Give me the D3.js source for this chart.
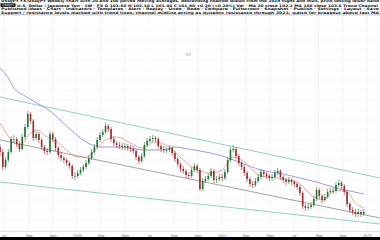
<!DOCTYPE html>
<html>
<head>
<meta charset="utf-8">
<script src="https://cdn.jsdelivr.net/npm/d3@7/dist/d3.min.js"></script>
<style>
  body { margin: 0; background: #fff; }
  svg { display: block; font-family: "DejaVu Sans", sans-serif; }
</style>
</head>
<body>
<div id="container"></div>
<script>
// weekly candles, first one on this date
const firstWeek = "2019-06-21";
const viewStart = "2019-06-21";
const viewEnd = "2022-02-03";

const closes = [107.8,106.3,107.0,107.8,109.1,109.1,108.6,108.1,109.3,110.3,
  111.6,110.9,109.2,109.6,109.0,108.3,107.9,107.8,109.6,109.1,
  108.2,107.5,107.2,107.0,106.7,106.4,105.4,105.4,105.7,106.0,
  106.3,106.7,107.2,107.8,108.3,109.0,109.5,109.8,110.4,110.1,
  109.1,108.7,108.5,108.4,108.3,108.4,108.2,108.1,107.9,107.3,
  106.9,107.4,108.5,108.9,109.1,109.2,109.1,108.4,108.1,108.0,
  108.0,108.2,107.7,107.1,106.6,106.1,105.9,105.5,105.4,106.0,
  106.4,106.0,104.1,104.9,105.1,105.4,105.9,105.0,105.1,105.3,
  105.2,105.8,107.0,108.0,108.1,107.4,106.7,106.3,105.7,105.1,
  104.6,104.5,104.9,105.3,105.8,105.6,105.4,105.2,105.3,105.7,
  105.9,105.3,105.0,104.8,105.0,104.8,104.6,104.3,103.7,102.4,
  102.2,102.3,102.5,103.1,104.0,103.4,103.0,103.3,103.8,103.9,
  103.9,104.5,104.7,104.4,103.8,102.6,102.0,101.8,101.6,101.8,
  101.6,101.8];
const firstOpen = 108.3;
const highs = [108.6,108.1,107.3,108.1,109.4,109.5,109.3,108.9,109.6,110.6,
  111.9,111.8,111.1,109.9,109.8,109.2,108.5,108.2,109.9,109.8,
  109.3,108.4,107.8,107.4,107.2,106.9,106.6,105.8,106.0,106.3,
  106.6,107.0,107.5,108.1,108.6,109.3,109.8,110.1,110.7,110.6,
  110.3,109.4,108.9,108.8,108.7,108.7,108.6,108.5,108.4,108.1,
  107.5,107.7,108.8,109.2,109.4,109.5,109.4,109.3,108.6,108.4,
  108.3,108.5,108.4,107.9,107.3,106.8,106.4,106.1,105.8,106.3,
  106.7,106.6,106.2,105.2,105.4,105.7,106.2,106.1,105.4,105.6,
  105.6,106.1,107.3,108.3,108.5,108.3,107.6,106.9,106.5,105.9,
  105.3,104.9,105.2,105.6,106.1,106.0,105.8,105.6,105.6,106.0,
  106.2,106.1,105.5,105.2,105.3,105.2,105.0,104.8,104.5,103.9,
  102.6,102.6,102.8,103.4,104.3,104.2,103.6,103.6,104.1,104.2,
  104.2,104.8,105.0,104.9,104.6,104.0,102.8,102.3,102.1,102.1,
  102.0,102.1];
const lows = [107.4,106.0,106.1,106.8,107.6,108.7,108.3,107.8,108.0,109.1,
  110.1,110.6,108.9,109.0,108.7,108.0,107.6,107.5,107.6,108.8,
  107.9,107.2,106.9,106.7,106.4,106.1,105.1,105.0,105.2,105.5,
  105.8,106.1,106.5,107.0,107.6,108.1,108.8,109.3,109.6,109.8,
  108.8,108.4,108.2,108.1,108.0,108.0,107.9,107.8,107.6,107.0,
  106.6,106.7,107.2,108.3,108.7,108.8,108.8,108.1,107.8,107.7,
  107.7,107.8,107.4,106.8,106.3,105.8,105.6,105.2,105.1,105.2,
  105.8,105.7,103.9,103.9,104.7,104.9,105.2,104.7,104.7,104.9,
  104.9,105.0,105.6,106.8,107.8,107.1,106.4,106.0,105.4,104.8,
  104.3,104.2,104.3,104.7,105.1,105.3,105.1,104.9,104.9,105.1,
  105.5,105.0,104.7,104.5,104.6,104.5,104.3,104.0,103.4,102.1,
  101.9,102.0,102.1,102.3,102.9,103.1,102.7,102.8,103.1,103.6,
  103.6,103.7,104.3,104.1,103.5,102.3,101.7,101.5,101.3,101.3,
  101.3,101.4];

// moving averages: [week index, value]
const slowMA = [[0,116.2],[3,115.2],[5,114.2],[9,113.4],[12,112.9],[18,111.9],
  [24,110.4],[31,108.8],[36,108.3],[42,108.3],[47,108.2],[52,108.0],[59,108.0],
  [63,108.3],[68,108.1],[72,107.9],[79,107.5],[86,106.8],[94,106.0],[102,105.6],
  [108,105.2],[114,104.8],[121,104.2],[126,103.9],[131,103.6]];
const fastMA = [[0,110.7],[2,109.8],[4,109.0],[7,108.5],[11,109.7],[13,110.0],
  [17,109.3],[21,108.7],[24,108.0],[28,107.3],[31,107.3],[35,108.2],[38,109.0],
  [42,109.3],[47,108.7],[51,108.2],[56,108.8],[61,108.3],[66,107.0],[71,106.0],
  [76,105.7],[80,106.0],[84,107.3],[87,107.0],[91,106.0],[94,105.4],[97,105.3],
  [104,105.0],[108,104.6],[112,103.5],[116,103.0],[121,104.0],[125,103.8],
  [128,102.7],[131,102.2]];

// drawn trend lines [date, price]
const upperLine = [["2019-06-21",113.3],["2022-02-03",105.2]];
const midLine = [["2019-06-21",109.0],["2022-02-03",101.2]];
const lowerLine = [["2019-06-21",104.8],["2022-02-03",100.6]];

const headerRows = [
  "U.S. Dollar / Japanese Yen · 1W · FX   O 101.60  H 102.10  L 101.40  C 101.80  +0.20 (+0.20%)   Vol · MA 20 close 102.2   MA 100 close 103.6   Trend Channel",
  "USDJPY  FX:USDJPY  Weekly chart with 20 and 100 period moving averages, descending channel drawn from the 2019 highs and lows, price testing lower band",
  "Published ideas · Chart · Indicators · Templates · Alert · Replay · Undo · Redo · Compare · Fullscreen · Snapshot · Publish · Settings · Layout · Save",
  "Support / resistance levels marked with trend lines; channel midline acting as dynamic resistance through 2021; watch for breakout above fast MA"
];

const W = 380, H = 240;
const plotTop = 15.5, plotBottom = 231;
const parse = d3.timeParse("%Y-%m-%d");
const week0 = parse(firstWeek);
const weekDate = i => d3.timeDay.offset(week0, i * 7);

const candles = closes.map((c, i) => ({
  date: weekDate(i),
  open: i === 0 ? firstOpen : closes[i - 1],
  close: c,
  high: highs[i],
  low: lows[i]
}));

const x = d3.scaleTime().domain([parse(viewStart), parse(viewEnd)]).range([0, W]);
const y = d3.scaleLinear().domain([100, 120]).range([230, 30]);

const svg = d3.select("#container").append("svg")
  .attr("width", W).attr("height", H);

svg.append("clipPath").attr("id", "plot")
  .append("rect").attr("x", 0).attr("y", plotTop).attr("width", W).attr("height", plotBottom - plotTop);

// grid
const grid = svg.append("g").attr("clip-path", "url(#plot)");
grid.selectAll("line.v").data(x.ticks(d3.timeMonth.every(2))).enter().append("line")
  .attr("x1", d => x(d)).attr("x2", d => x(d))
  .attr("y1", plotTop).attr("y2", plotBottom)
  .attr("stroke", "#efefef").attr("stroke-width", 0.8);
grid.selectAll("line.h").data(d3.range(100, 121, 1)).enter().append("line")
  .attr("x1", 0).attr("x2", W)
  .attr("y1", d => y(d)).attr("y2", d => y(d))
  .attr("stroke", "#f2f2f2").attr("stroke-width", 0.8);

const plot = svg.append("g").attr("clip-path", "url(#plot)");

// trend lines
const tl = d3.line().x(d => x(parse(d[0]))).y(d => y(d[1]));
plot.append("path").attr("d", tl(upperLine)).attr("fill", "none").attr("stroke", "#74c6b6").attr("stroke-width", 0.8);
plot.append("path").attr("d", tl(lowerLine)).attr("fill", "none").attr("stroke", "#74c6b6").attr("stroke-width", 0.8);
plot.append("path").attr("d", tl(midLine)).attr("fill", "none").attr("stroke", "#8c8c8c").attr("stroke-width", 0.8);

// moving averages
const ma = d3.line().curve(d3.curveMonotoneX).x(d => x(weekDate(d[0]))).y(d => y(d[1]));
plot.append("path").attr("d", ma(slowMA)).attr("fill", "none").attr("stroke", "#8f8fe6").attr("stroke-width", 0.9);
plot.append("path").attr("d", ma(fastMA)).attr("fill", "none").attr("stroke", "#ef8a8a").attr("stroke-width", 0.8);

// candles
const bw = 1.6;
const up = "#1f7432", down = "#9e2a2a";
const c = plot.selectAll("g.candle").data(candles).enter().append("g");
c.append("line")
  .attr("x1", d => x(d.date)).attr("x2", d => x(d.date))
  .attr("y1", d => y(d.high)).attr("y2", d => y(d.low))
  .attr("stroke", d => d.close >= d.open ? up : down).attr("stroke-width", 0.6);
c.append("rect")
  .attr("x", d => x(d.date) - bw / 2)
  .attr("y", d => y(Math.max(d.open, d.close)))
  .attr("width", bw)
  .attr("height", d => Math.max(0.6, Math.abs(y(d.open) - y(d.close))))
  .attr("fill", d => d.close >= d.open ? up : down);

// watermark
svg.append("text").attr("x", 188).attr("y", 56).attr("text-anchor", "middle")
  .attr("font-size", 5).attr("fill", "#999").text("ılıl");

// header
svg.append("rect").attr("x", 0).attr("y", 0).attr("width", W).attr("height", 15).attr("fill", "#fff");
svg.append("rect").attr("x", 0.5).attr("y", 3.3).attr("width", 15).attr("height", 3.6).attr("fill", "#111");
svg.selectAll("text.hdr").data(headerRows).enter().append("text")
  .attr("x", (d, i) => i === 0 ? 17 : 1)
  .attr("y", (d, i) => [6.6, 2.2, 10.2, 13.6][i])
  .attr("font-size", 3.4).attr("font-weight", "bold").attr("fill", "#111")
  .attr("textLength", (d, i) => i === 0 ? 361 : 378)
  .attr("lengthAdjust", "spacingAndGlyphs")
  .text(d => d);
svg.append("text").attr("x", 2).attr("y", 6.3).attr("font-size", 2.8).attr("fill", "#fff")
  .attr("textLength", 12).attr("lengthAdjust", "spacingAndGlyphs").text("USDJPY");
svg.append("line").attr("x1", 0).attr("x2", W).attr("y1", 14.8).attr("y2", 14.8)
  .attr("stroke", "#aaa").attr("stroke-width", 0.8);

// x axis
const fmt = d => d.getMonth() === 0 ? d3.timeFormat("%Y")(d) : d3.timeFormat("%b")(d);
const ax = svg.append("g").attr("transform", `translate(0,${plotBottom})`)
  .call(d3.axisBottom(x).ticks(d3.timeMonth.every(2)).tickFormat(fmt).tickSize(0).tickPadding(3.2));
ax.select(".domain").attr("stroke", "#cfcfcf").attr("stroke-width", 0.6);
ax.selectAll("text").attr("font-size", 3.6).attr("fill", "#666").attr("font-family", "DejaVu Sans");

svg.append("rect").attr("x", 0).attr("y", 237).attr("width", W).attr("height", 3).attr("fill", "#000");
</script>
</body>
</html>
